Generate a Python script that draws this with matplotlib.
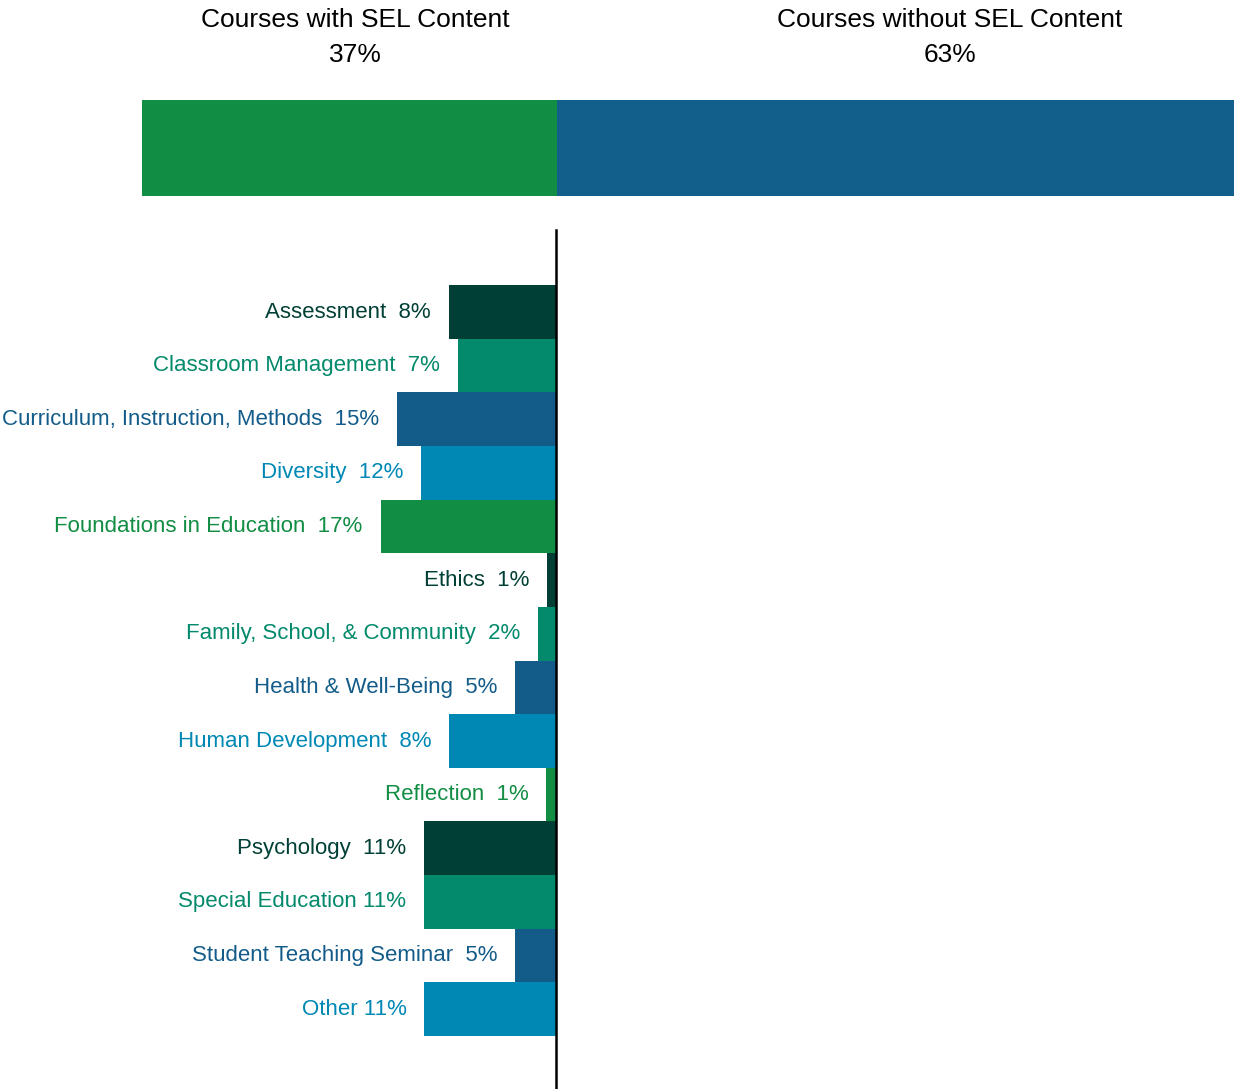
import numpy as np
import matplotlib
matplotlib.use("Agg")
import matplotlib.pyplot as plt

plt.rcParams['font.family'] = ['Liberation Sans Narrow', 'Liberation Sans', 'DejaVu Sans']

# top split
split_labels = ["Courses with SEL Content\n37%", "Courses without SEL Content\n63%"]
split_values = [38, 62]
split_colors = ["#128d44", "#135f8c"]
split_label_x = [19.5, 74.0]

# course categories (label text, bar length as drawn)
categories = ["Assessment  8%", "Classroom Management  7%", "Curriculum, Instruction, Methods  15%",
              "Diversity  12%", "Foundations in Education  17%", "Ethics  1%",
              "Family, School, & Community  2%", "Health & Well-Being  5%",
              "Human Development  8%", "Reflection  1%", "Psychology  11%",
              "Special Education 11%", "Student Teaching Seminar  5%", "Other 11%"]
bar_len = [10.0, 9.2, 14.9, 12.6, 16.4, 0.8, 1.7, 3.8, 10.0, 0.9, 12.3, 12.3, 3.8, 12.3]
palette = ["#003f35", "#03896b", "#135c8a", "#0088b5", "#128d44"]

W, H = 1234, 1089
fig = plt.figure(figsize=(W / 100, H / 100), dpi=100)

# top stacked bar
ax1 = fig.add_axes([142 / W, 1 - 196 / H, 1092 / W, 96 / H])
left = 0
for v, c in zip(split_values, split_colors):
    ax1.barh(0, v, left=left, height=1.0, color=c, edgecolor="none")
    left += v
ax1.set_xlim(0, sum(split_values))
ax1.set_ylim(-0.5, 0.5)
for lab, x in zip(split_labels, split_label_x):
    ax1.text(x, 1.15, lab, ha="center", va="center", fontsize=19, color="black",
             linespacing=1.6, clip_on=False)
ax1.axis("off")

# category bars
ax2 = fig.add_axes([0, 0, 556 / W, 859 / H])
y = np.arange(len(categories))
colors = [palette[i % len(palette)] for i in range(len(categories))]
ax2.barh(y, [-v for v in bar_len], height=1.0, color=colors, edgecolor="none")
for yi, v, lab, c in zip(y, bar_len, categories, colors):
    ax2.annotate(lab, (-v, yi), xytext=(-13, 0), textcoords="offset points",
                 ha="right", va="center", fontsize=16, color=c)
ax2.set_xlim(-52, 0)
ax2.set_ylim(len(categories) - 0.5 + 0.99, -1.53)
for s in ["left", "top", "bottom"]:
    ax2.spines[s].set_visible(False)
ax2.spines["right"].set_linewidth(1.8)
ax2.set_xticks([])
ax2.set_yticks([])

fig.savefig("out.png", dpi=100)
